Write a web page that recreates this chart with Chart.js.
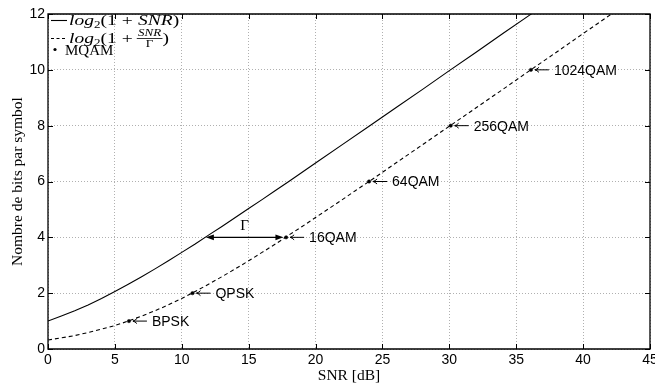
<!DOCTYPE html>
<html><head><meta charset="utf-8">
<script src="https://cdn.jsdelivr.net/npm/chart.js@4.4.1/dist/chart.umd.min.js"></script>
<style>html,body{margin:0;padding:0;background:#fff}canvas{display:block}</style>
</head><body>
<canvas id="c" width="655" height="385"></canvas>
<script>
// ---- data ----
const solidSnr  = [0,1,2,3,4,5,6,7,8,9,10,11,12,13,14,15,16,17,18,19,20,22,24,26,28,30,32,34,36,36.12];
const solidBits = [1.00,1.18,1.37,1.58,1.81,2.06,2.32,2.59,2.87,3.16,3.46,3.76,4.08,4.39,4.71,5.03,5.35,5.68,6.00,6.33,6.66,7.32,7.98,8.64,9.30,9.97,10.63,11.30,11.96,12.0];
const dashedSnr  = [0,1,2,3,4,5,6,7,8,9,10,11,12,13,14,15,16,17,18,19,20,21,22,23,24,25,26,28,30,32,34,36,38,40,42,42.12];
const dashedBits = [0.32,0.40,0.48,0.59,0.71,0.84,1.00,1.18,1.37,1.58,1.81,2.06,2.32,2.59,2.87,3.16,3.46,3.76,4.08,4.39,4.71,5.03,5.35,5.68,6.00,6.33,6.66,7.32,7.98,8.64,9.30,9.97,10.63,11.30,11.96,12.0];
const mqamSnr    = [6.05,10.8,17.8,24.0,30.1,36.1];
const mqamBits   = [1,2,4,6,8,10];
const mqamLabels = ['BPSK','QPSK','16QAM','64QAM','256QAM','1024QAM'];
const gammaSnr   = [11.8,17.6];
const gammaBits  = 4;
const gammaLabel = 'Γ';
const xTitle = 'SNR [dB]';
const yTitle = 'Nombre de bits par symbol';
const legendLabels = ['log', 'MQAM'];

const SERIF = "'Liberation Serif','Times New Roman',serif";
const SANS  = "'Liberation Sans',Arial,sans-serif";

function runs(ctx, x, y, parts, sx) {
  ctx.save(); ctx.translate(x, y); ctx.scale(sx, 1);
  let cx = 0;
  for (const p of parts) {
    if (p.frac) {
      ctx.font = p.f;
      const wn = ctx.measureText(p.num).width, wd = ctx.measureText(p.den).width;
      const w = Math.max(wn, wd) + 2;
      ctx.textAlign = 'center';
      ctx.fillText(p.num, cx + w/2, p.ny);
      ctx.font = p.f2;
      ctx.fillText(p.den, cx + w/2, p.dy);
      ctx.textAlign = 'left';
      ctx.fillRect(cx, p.by, w, 0.8);
      cx += w + (p.sp || 0);
    } else {
      ctx.font = p.f;
      ctx.fillText(p.t, cx, p.dy || 0);
      cx += ctx.measureText(p.t).width + (p.sp || 0);
    }
  }
  ctx.restore();
}

const overlay = {
  id: 'overlay',
  afterDatasetsDraw(chart) {
    const {ctx, chartArea: a, scales: {x, y}} = chart;
    ctx.save();
    ctx.fillStyle = '#000'; ctx.strokeStyle = '#000';
    // frame
    ctx.lineWidth = 1.3;
    ctx.beginPath();
    ctx.moveTo(a.left, a.top); ctx.lineTo(a.right, a.top); ctx.lineTo(a.right, a.bottom);
    ctx.lineTo(a.left, a.bottom); ctx.closePath(); ctx.stroke();
    // inward ticks
    ctx.lineWidth = 1;
    ctx.beginPath();
    x.ticks.forEach(t => { const px = Math.round(x.getPixelForValue(t.value)) + 0.5;
      ctx.moveTo(px, a.bottom); ctx.lineTo(px, a.bottom - 5);
      ctx.moveTo(px, a.top); ctx.lineTo(px, a.top + 5); });
    y.ticks.forEach(t => { const py = Math.round(y.getPixelForValue(t.value)) + 0.5;
      ctx.moveTo(a.left, py); ctx.lineTo(a.left + 5, py);
      ctx.moveTo(a.right, py); ctx.lineTo(a.right - 5, py); });
    ctx.stroke();

    // MQAM labels with arrows
    ctx.font = '14px ' + SANS;
    ctx.textBaseline = 'middle';
    mqamSnr.forEach((s, i) => {
      const px = x.getPixelForValue(s), py = y.getPixelForValue(mqamBits[i]);
      ctx.lineWidth = 1;
      ctx.beginPath();
      ctx.moveTo(px + 4, py); ctx.lineTo(px + 18, py);
      ctx.moveTo(px + 8, py - 2.5); ctx.quadraticCurveTo(px + 6, py - 0.5, px + 4, py);
      ctx.moveTo(px + 8, py + 2.5); ctx.quadraticCurveTo(px + 6, py + 0.5, px + 4, py);
      ctx.stroke();
      ctx.fillText(mqamLabels[i], px + 23, py + 1);
    });

    // Gamma double arrow
    const gx1 = x.getPixelForValue(gammaSnr[0]), gx2 = x.getPixelForValue(gammaSnr[1]);
    const gy = y.getPixelForValue(gammaBits);
    ctx.lineWidth = 1.3;
    ctx.beginPath(); ctx.moveTo(gx1 + 6, gy); ctx.lineTo(gx2 - 6, gy); ctx.stroke();
    ctx.beginPath(); ctx.moveTo(gx1, gy); ctx.lineTo(gx1 + 8, gy - 2.8); ctx.lineTo(gx1 + 8, gy + 2.8); ctx.closePath(); ctx.fill();
    ctx.beginPath(); ctx.moveTo(gx2, gy); ctx.lineTo(gx2 - 8, gy - 2.8); ctx.lineTo(gx2 - 8, gy + 2.8); ctx.closePath(); ctx.fill();
    ctx.font = '15px ' + SERIF;
    ctx.textAlign = 'center'; ctx.textBaseline = 'alphabetic';
    ctx.fillText(gammaLabel, (gx1 + gx2) / 2, gy - 7);
    ctx.textAlign = 'left';

    // legend
    const lx = a.left + 3;
    ctx.lineWidth = 1.1;
    ctx.beginPath(); ctx.moveTo(lx, 20.5); ctx.lineTo(lx + 16, 20.5); ctx.stroke();
    ctx.setLineDash([3, 2.5]);
    ctx.beginPath(); ctx.moveTo(lx, 38.5); ctx.lineTo(lx + 16, 38.5); ctx.stroke();
    ctx.setLineDash([]);
    const it = 'italic 15px ' + SERIF, up = '15px ' + SERIF, sm = '10px ' + SERIF;
    ctx.textBaseline = 'alphabetic';
    runs(ctx, lx + 18, 25, [
      {t: legendLabels[0], f: it}, {t: '2', f: sm, dy: 3}, {t: '(1', f: up, sp: 4},
      {t: '+', f: up, sp: 4}, {t: 'SNR', f: it}, {t: ')', f: up}], 1.3);
    runs(ctx, lx + 18, 42.5, [
      {t: legendLabels[0], f: it}, {t: '2', f: sm, dy: 3}, {t: '(1', f: up, sp: 4},
      {t: '+', f: up, sp: 3},
      {frac: true, num: 'SNR', den: 'Γ', f: 'italic 10px ' + SERIF, f2: '10px ' + SERIF, ny: -6.5, dy: 4.5, by: -4.5},
      {t: ')', f: up}], 1.3);
    ctx.beginPath(); ctx.arc(lx + 4, 49.5, 1.6, 0, Math.PI * 2); ctx.fill();
    ctx.font = up;
    ctx.fillText(legendLabels[1], lx + 14, 54.5);
    ctx.restore();
  }
};

const toPts = (xs, ys) => xs.map((v, i) => ({x: v, y: ys[i]}));

new Chart(document.getElementById('c'), {
  type: 'scatter',
  data: {
    datasets: [
      {data: toPts(solidSnr, solidBits), showLine: true, pointRadius: 0, borderColor: '#000', borderWidth: 1.1, tension: 0},
      {data: toPts(dashedSnr, dashedBits), showLine: true, pointRadius: 0, borderColor: '#000', borderWidth: 1.1, borderDash: [4, 3], tension: 0},
      {data: mqamSnr.map((v, i) => ({x: v, y: mqamBits[i]})), showLine: false, pointRadius: 1.7, pointStyle: 'circle', backgroundColor: '#000', borderColor: '#000', borderWidth: 0.5}
    ]
  },
  options: {
    responsive: false, devicePixelRatio: 1, animation: false,
    layout: {padding: {top: 14, right: 5, left: 0, bottom: 0}},
    plugins: {legend: {display: false}, tooltip: {enabled: false}},
    scales: {
      x: {
        type: 'linear', min: 0, max: 45,
        ticks: {stepSize: 5, padding: 3, color: '#000', font: {family: SANS, size: 14}, maxRotation: 0, autoSkip: false},
        grid: {color: '#b0b0b0', drawTicks: false, lineWidth: 1},
        border: {display: false, dash: [1, 2]},
        title: {display: true, text: xTitle, color: '#000', font: {family: SERIF, size: 15.5}, padding: {top: 0, bottom: 0}},
        afterFit(s) { s.height = 36; s.paddingLeft = 0; s.paddingRight = 0; }
      },
      y: {
        type: 'linear', min: 0, max: 12,
        ticks: {stepSize: 2, padding: 3, color: '#000', font: {family: SANS, size: 14}},
        grid: {color: '#b0b0b0', drawTicks: false, lineWidth: 1},
        border: {display: false, dash: [1, 2]},
        title: {display: true, text: yTitle, color: '#000', font: {family: SERIF, size: 15.5}, padding: {top: 9, bottom: 0}},
        afterFit(s) { s.width = 48; s.paddingTop = 0; s.paddingBottom = 0; }
      }
    }
  },
  plugins: [overlay]
});
</script>
</body></html>
